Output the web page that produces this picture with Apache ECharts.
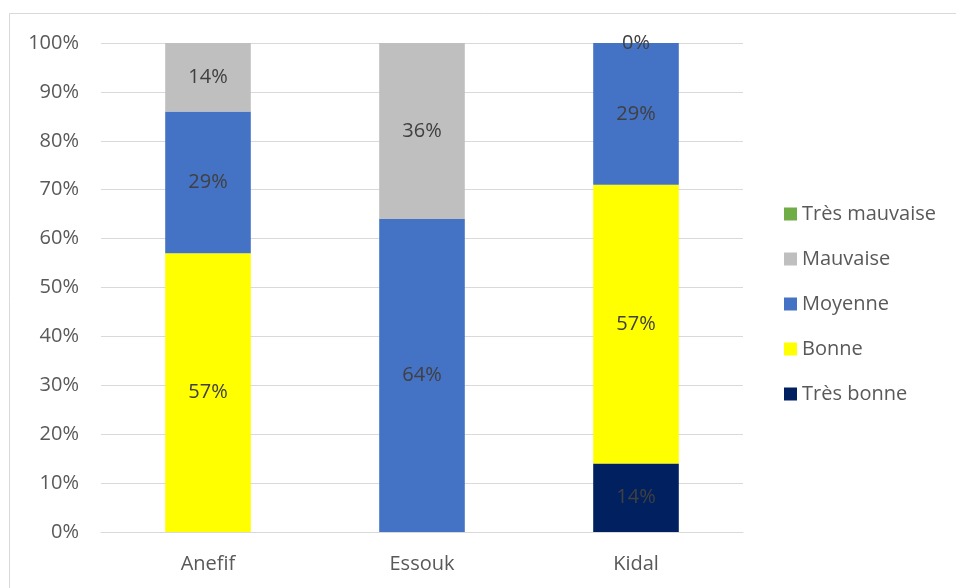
<!DOCTYPE html>
<html>
<head>
<meta charset="utf-8">
<script src="https://cdn.jsdelivr.net/npm/echarts@6/dist/echarts.min.js"></script>
<style>html,body{margin:0;padding:0;background:#fff}#c{width:956px;height:588px}</style>
</head>
<body>
<div id="c"></div>
<script>
const categories = ['Anefif', 'Essouk', 'Kidal'];
const tresBonne = [0, 0, 14];
const bonne = [57, 0, 57];
const moyenne = [29, 64, 29];
const mauvaise = [14, 36, 0];
const tresMauvaise = [0, 0, 0];
const yTicks = [0, 10, 20, 30, 40, 50, 60, 70, 80, 90, 100];
// zero values whose label is still displayed in the original
const zeroLabelShown = { 'Mauvaise': [false, false, true] };

const FONT = '"Open Sans", "Noto Sans", sans-serif';
const seriesDefs = [
  { name: 'Très bonne', data: tresBonne, color: '#002060' },
  { name: 'Bonne', data: bonne, color: '#FFFF00' },
  { name: 'Moyenne', data: moyenne, color: '#4472C4' },
  { name: 'Mauvaise', data: mauvaise, color: '#BFBFBF' },
  { name: 'Très mauvaise', data: tresMauvaise, color: '#70AD47' }
];

const chart = echarts.init(document.getElementById('c'), null, { renderer: 'canvas' });
chart.setOption({
  animation: false,
  backgroundColor: '#fff',
  textStyle: { fontFamily: FONT },
  graphic: [{
    type: 'rect', silent: true,
    shape: { x: 9.5, y: 13.5, width: 1000, height: 1000 },
    style: { fill: 'none', stroke: '#D9D9D9', lineWidth: 1 }
  }],
  grid: { left: 101, right: 213, top: 43, bottom: 56, containLabel: false },
  legend: {
    orient: 'vertical',
    left: 779, top: 199,
    itemWidth: 13, itemHeight: 13, itemGap: 25,
    icon: 'rect',
    data: ['Très mauvaise', 'Mauvaise', 'Moyenne', 'Bonne', 'Très bonne'],
    textStyle: { color: '#595959', fontSize: 20, fontFamily: FONT, lineHeight: 20 }
  },
  xAxis: {
    type: 'category',
    data: categories,
    axisTick: { show: false },
    axisLine: { show: true, lineStyle: { color: '#D9D9D9', width: 1 } },
    axisLabel: { color: '#595959', fontSize: 20, fontFamily: FONT, margin: 22 }
  },
  yAxis: {
    type: 'value',
    min: yTicks[0], max: yTicks[yTicks.length - 1], interval: 10,
    axisLine: { show: false },
    axisTick: { show: false },
    splitLine: { lineStyle: { color: '#D9D9D9', width: 1 } },
    axisLabel: { color: '#595959', fontSize: 20, fontFamily: FONT, margin: 22, formatter: '{value}%' }
  },
  series: seriesDefs.map(s => ({
    name: s.name,
    type: 'bar',
    stack: 'total',
    barWidth: '40%',
    itemStyle: { color: s.color },
    data: s.data.map((v, i) => ({
      value: v,
      label: { show: v > 0 || !!(zeroLabelShown[s.name] && zeroLabelShown[s.name][i]) }
    })),
    label: {
      position: 'inside',
      color: '#404040',
      fontSize: 20,
      fontFamily: FONT,
      formatter: p => p.value + '%'
    }
  }))
});
</script>
</body>
</html>
